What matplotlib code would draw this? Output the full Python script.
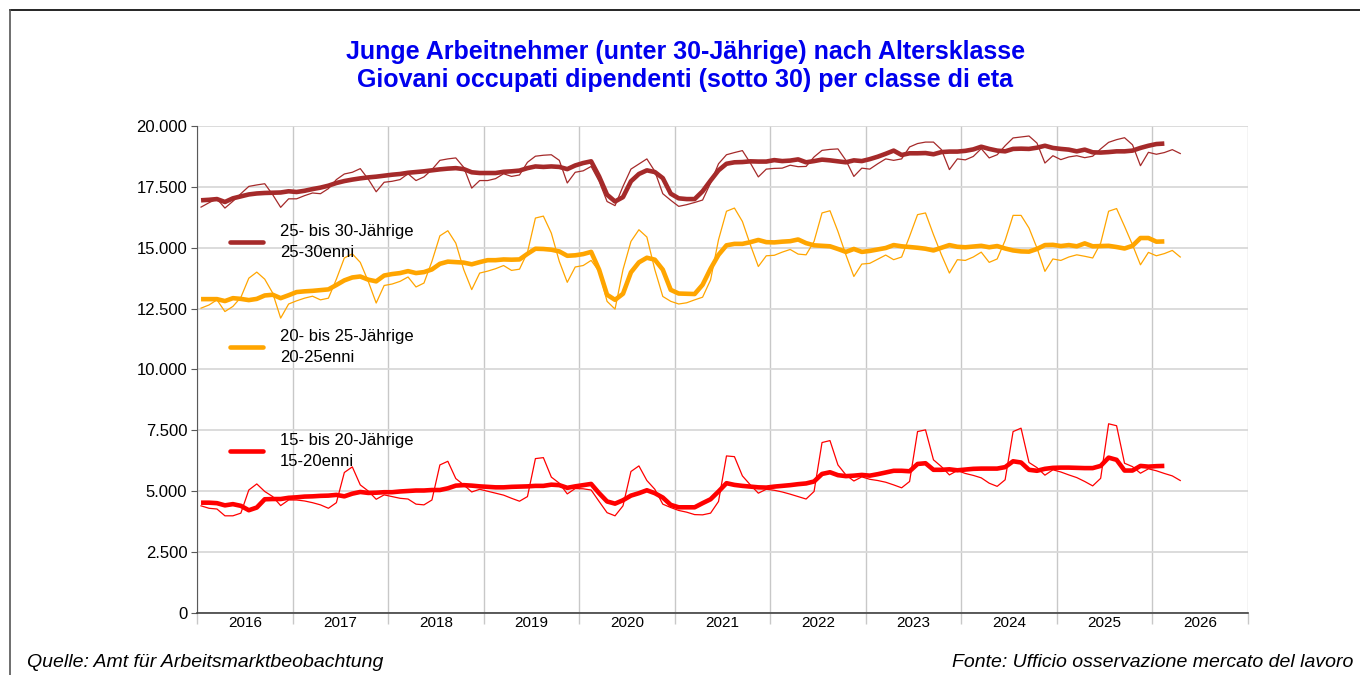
import numpy as np
import matplotlib.pyplot as plt
import matplotlib.ticker as mticker
from matplotlib.lines import Line2D

plt.rcParams['font.family'] = ['Liberation Sans', 'DejaVu Sans']

# monthly values from Jan 2016, in thousands
age_25_30 = [16.67, 16.85, 17.01, 16.63, 16.91, 17.22, 17.52, 17.58, 17.63, 17.18, 16.66, 17.01,
             17.01, 17.14, 17.25, 17.22, 17.43, 17.80, 18.03, 18.10, 18.25, 17.82, 17.30, 17.69,
             17.73, 17.80, 18.04, 17.76, 17.91, 18.21, 18.59, 18.65, 18.69, 18.30, 17.45, 17.76,
             17.76, 17.84, 18.04, 17.93, 17.99, 18.51, 18.76, 18.80, 18.82, 18.59, 17.66, 18.10,
             18.16, 18.34, 17.73, 16.90, 16.73, 17.52, 18.23, 18.44, 18.65, 18.14, 17.22, 16.95,
             16.70, 16.77, 16.86, 16.96, 17.66, 18.45, 18.82, 18.91, 18.99, 18.48, 17.91, 18.23,
             18.26, 18.27, 18.39, 18.33, 18.34, 18.73, 19.00, 19.04, 19.06, 18.59, 17.93, 18.27,
             18.23, 18.45, 18.65, 18.59, 18.65, 19.14, 19.28, 19.34, 19.34, 19.03, 18.21, 18.65,
             18.61, 18.75, 19.07, 18.69, 18.82, 19.19, 19.51, 19.55, 19.59, 19.30, 18.48, 18.78,
             18.62, 18.73, 18.78, 18.70, 18.76, 19.06, 19.33, 19.44, 19.52, 19.23, 18.37, 18.92,
             18.84, 18.91, 19.03, 18.87]
trend_25_30 = [16.95, 16.97, 17.00, 16.88, 17.03, 17.11, 17.19, 17.23, 17.25, 17.26, 17.27, 17.32,
               17.29, 17.34, 17.41, 17.47, 17.55, 17.66, 17.74, 17.80, 17.85, 17.89, 17.92, 17.96,
               18.00, 18.03, 18.08, 18.11, 18.14, 18.18, 18.22, 18.25, 18.27, 18.23, 18.10, 18.07,
               18.07, 18.07, 18.12, 18.14, 18.17, 18.27, 18.34, 18.32, 18.34, 18.32, 18.23, 18.38,
               18.48, 18.55, 17.93, 17.18, 16.90, 17.08, 17.73, 18.03, 18.18, 18.11, 17.86, 17.22,
               17.03, 17.00, 17.00, 17.32, 17.76, 18.18, 18.45, 18.51, 18.52, 18.55, 18.54, 18.54,
               18.60, 18.56, 18.58, 18.63, 18.51, 18.56, 18.62, 18.59, 18.55, 18.51, 18.59, 18.56,
               18.64, 18.74, 18.86, 18.99, 18.81, 18.88, 18.88, 18.89, 18.84, 18.93, 18.95, 18.95,
               18.98, 19.04, 19.15, 19.06, 18.99, 18.96, 19.06, 19.07, 19.06, 19.11, 19.19, 19.10,
               19.06, 19.03, 18.96, 19.03, 18.92, 18.91, 18.93, 18.96, 18.96, 18.99, 19.10, 19.19,
               19.26, 19.28]

age_20_25 = [12.52, 12.65, 12.86, 12.38, 12.59, 12.96, 13.75, 14.00, 13.71, 13.14, 12.11, 12.69,
             12.82, 12.93, 13.01, 12.86, 12.93, 13.71, 14.58, 14.75, 14.40, 13.62, 12.73, 13.45,
             13.51, 13.62, 13.80, 13.39, 13.55, 14.44, 15.49, 15.70, 15.19, 14.10, 13.28, 13.96,
             14.04, 14.14, 14.27, 14.07, 14.12, 14.81, 16.22, 16.30, 15.60, 14.44, 13.58, 14.21,
             14.27, 14.48, 14.03, 12.80, 12.48, 14.10, 15.26, 15.74, 15.44, 14.10, 13.00, 12.80,
             12.69, 12.74, 12.86, 12.97, 13.68, 15.33, 16.50, 16.63, 16.08, 15.12, 14.23, 14.67,
             14.69, 14.82, 14.93, 14.74, 14.71, 15.26, 16.43, 16.52, 15.67, 14.71, 13.82, 14.33,
             14.36, 14.53, 14.70, 14.51, 14.62, 15.47, 16.36, 16.43, 15.54, 14.71, 13.96, 14.51,
             14.48, 14.62, 14.82, 14.40, 14.54, 15.30, 16.33, 16.33, 15.81, 14.99, 14.03, 14.54,
             14.48, 14.62, 14.71, 14.65, 14.58, 15.19, 16.50, 16.61, 15.88, 15.12, 14.30, 14.81,
             14.67, 14.76, 14.89, 14.62]
trend_20_25 = [12.89, 12.89, 12.89, 12.81, 12.93, 12.90, 12.85, 12.90, 13.04, 13.07, 12.93, 13.05,
               13.18, 13.21, 13.23, 13.26, 13.29, 13.47, 13.66, 13.78, 13.82, 13.69, 13.62, 13.86,
               13.92, 13.96, 14.04, 13.96, 14.00, 14.11, 14.34, 14.43, 14.41, 14.39, 14.32, 14.41,
               14.49, 14.49, 14.52, 14.51, 14.52, 14.75, 14.96, 14.95, 14.92, 14.85, 14.67, 14.69,
               14.74, 14.83, 14.10, 13.07, 12.86, 13.11, 13.99, 14.40, 14.59, 14.51, 14.10, 13.27,
               13.12, 13.11, 13.10, 13.48, 14.14, 14.71, 15.10, 15.16, 15.16, 15.23, 15.32, 15.23,
               15.22, 15.25, 15.27, 15.34, 15.19, 15.10, 15.08, 15.06, 14.95, 14.83, 14.95, 14.83,
               14.87, 14.93, 14.99, 15.11, 15.06, 15.03, 15.00, 14.96, 14.89, 15.00, 15.11, 15.04,
               15.02, 15.05, 15.08, 15.02, 15.07, 14.97, 14.89, 14.85, 14.84, 14.95, 15.11, 15.12,
               15.07, 15.11, 15.06, 15.18, 15.06, 15.07, 15.08, 15.03, 14.97, 15.08, 15.40, 15.40,
               15.25, 15.26]

age_15_20 = [4.40, 4.30, 4.27, 3.99, 3.99, 4.10, 5.05, 5.30, 4.99, 4.78, 4.41, 4.64,
             4.64, 4.60, 4.53, 4.44, 4.30, 4.53, 5.77, 6.00, 5.26, 5.01, 4.67, 4.85,
             4.78, 4.71, 4.68, 4.47, 4.44, 4.64, 6.08, 6.23, 5.52, 5.26, 4.97, 5.08,
             5.00, 4.92, 4.84, 4.71, 4.59, 4.78, 6.34, 6.38, 5.58, 5.33, 4.89, 5.11,
             5.10, 5.05, 4.58, 4.12, 3.99, 4.40, 5.81, 6.04, 5.44, 5.08, 4.47, 4.33,
             4.21, 4.14, 4.04, 4.03, 4.10, 4.58, 6.45, 6.42, 5.63, 5.26, 4.92, 5.08,
             5.04, 4.97, 4.88, 4.78, 4.68, 4.99, 7.00, 7.08, 6.08, 5.67, 5.42, 5.59,
             5.49, 5.44, 5.37, 5.26, 5.14, 5.40, 7.45, 7.52, 6.29, 6.01, 5.67, 5.85,
             5.73, 5.65, 5.55, 5.33, 5.20, 5.47, 7.45, 7.59, 6.18, 5.97, 5.66, 5.88,
             5.79, 5.67, 5.56, 5.40, 5.22, 5.53, 7.77, 7.69, 6.15, 6.01, 5.74, 5.92,
             5.84, 5.73, 5.63, 5.44]
trend_15_20 = [4.53, 4.53, 4.51, 4.42, 4.47, 4.40, 4.22, 4.33, 4.67, 4.68, 4.68, 4.73,
               4.75, 4.78, 4.79, 4.81, 4.82, 4.85, 4.79, 4.90, 4.97, 4.93, 4.94, 4.96,
               4.96, 4.99, 5.01, 5.03, 5.03, 5.05, 5.05, 5.12, 5.23, 5.25, 5.23, 5.20,
               5.18, 5.16, 5.16, 5.18, 5.19, 5.20, 5.22, 5.22, 5.27, 5.25, 5.14, 5.20,
               5.25, 5.30, 4.92, 4.58, 4.49, 4.63, 4.82, 4.92, 5.04, 4.92, 4.74, 4.44,
               4.34, 4.34, 4.34, 4.51, 4.67, 4.99, 5.33, 5.26, 5.22, 5.19, 5.16, 5.15,
               5.19, 5.22, 5.25, 5.29, 5.32, 5.40, 5.71, 5.78, 5.66, 5.62, 5.64, 5.67,
               5.64, 5.70, 5.77, 5.84, 5.84, 5.82, 6.12, 6.15, 5.88, 5.88, 5.90, 5.86,
               5.89, 5.92, 5.93, 5.93, 5.93, 5.99, 6.23, 6.18, 5.88, 5.84, 5.92, 5.96,
               5.97, 5.97, 5.96, 5.95, 5.95, 6.04, 6.38, 6.29, 5.85, 5.85, 6.04, 6.01,
               6.03, 6.04]

labels = ["25- bis 30-Jährige\n25-30enni", "20- bis 25-Jährige\n20-25enni", "15- bis 20-Jährige\n15-20enni"]
colors = ["#A52A2A", "#FFA500", "#FF0000"]
years = list(range(2016, 2027))


def month_pos(n):
    # mid-month position on a decimal year axis
    return 2016 + (np.arange(n) + 0.5) / 12


fig = plt.figure(figsize=(13.6, 6.75), dpi=100)
ax = fig.add_axes([0.1449, 0.0919, 0.7727, 0.7214])

series = [(age_25_30, trend_25_30), (age_20_25, trend_20_25), (age_15_20, trend_15_20)]
for (raw, trend), c in zip(series, colors):
    raw = np.array(raw) * 1000
    trend = np.array(trend) * 1000
    ax.plot(month_pos(len(raw)), raw, color=c, lw=0.9, zorder=3)
    ax.plot(month_pos(len(trend)), trend, color=c, lw=3.3, zorder=4, solid_capstyle='butt')

ax.set_xlim(2016, 2027)
ax.set_ylim(0, 20000)
ax.yaxis.set_major_locator(mticker.MultipleLocator(2500))
ax.yaxis.set_major_formatter(mticker.FuncFormatter(lambda v, p: f"{int(v):,}".replace(",", ".")))
ax.xaxis.set_major_locator(mticker.FixedLocator(range(2016, 2028)))
ax.xaxis.set_major_formatter(mticker.NullFormatter())
ax.xaxis.set_minor_locator(mticker.FixedLocator([y + 0.5 for y in years]))
ax.xaxis.set_minor_formatter(mticker.FixedFormatter([str(y) for y in years]))
ax.tick_params(axis='x', which='major', length=8, color='#c8c8c8', width=1)
ax.tick_params(axis='x', which='minor', length=0, pad=2, labelsize=11)
ax.tick_params(axis='y', length=4, color='#595959', labelsize=12, pad=3)

ax.grid(axis='y', color='#d9d9d9', lw=1.3)
ax.grid(axis='x', which='major', color='#c8c8c8', lw=1.0)
ax.set_axisbelow(True)
for s in ['top', 'right']:
    ax.spines[s].set_visible(False)
ax.spines['left'].set_color('#595959')
ax.spines['bottom'].set_color('#404040')
ax.spines['bottom'].set_linewidth(1.2)

# legend entries drawn inside the plot area
legend_y = [0.762, 0.546, 0.333]
for lab, c, ly in zip(labels, colors, legend_y):
    ax.plot([0.031, 0.063], [ly, ly], color=c, lw=3.3, transform=ax.transAxes, solid_capstyle='round')
    ax.text(0.079, ly, lab, transform=ax.transAxes, ha='left', va='center', fontsize=12, linespacing=1.45)

fig.text(0.504, 0.902, "Junge Arbeitnehmer (unter 30-Jährige) nach Altersklasse\n"
         "Giovani occupati dipendenti (sotto 30) per classe di eta",
         ha='center', va='center', color='#0000EE', fontsize=18, fontweight='bold', linespacing=1.2)

fig.text(0.02, 0.018, "Quelle: Amt für Arbeitsmarktbeobachtung", ha='left', va='center',
         fontsize=14, style='italic')
fig.text(0.995, 0.018, "Fonte: Ufficio osservazione mercato del lavoro", ha='right', va='center',
         fontsize=14, style='italic')

# frame lines at top and left of the figure
fig.add_artist(Line2D([0.0074, 1.0], [0.985, 0.985], color='black', lw=1.2))
fig.add_artist(Line2D([0.0074, 0.0074], [0.0, 0.985], color='#555555', lw=1.2))

fig.savefig("out.png", dpi=100)
